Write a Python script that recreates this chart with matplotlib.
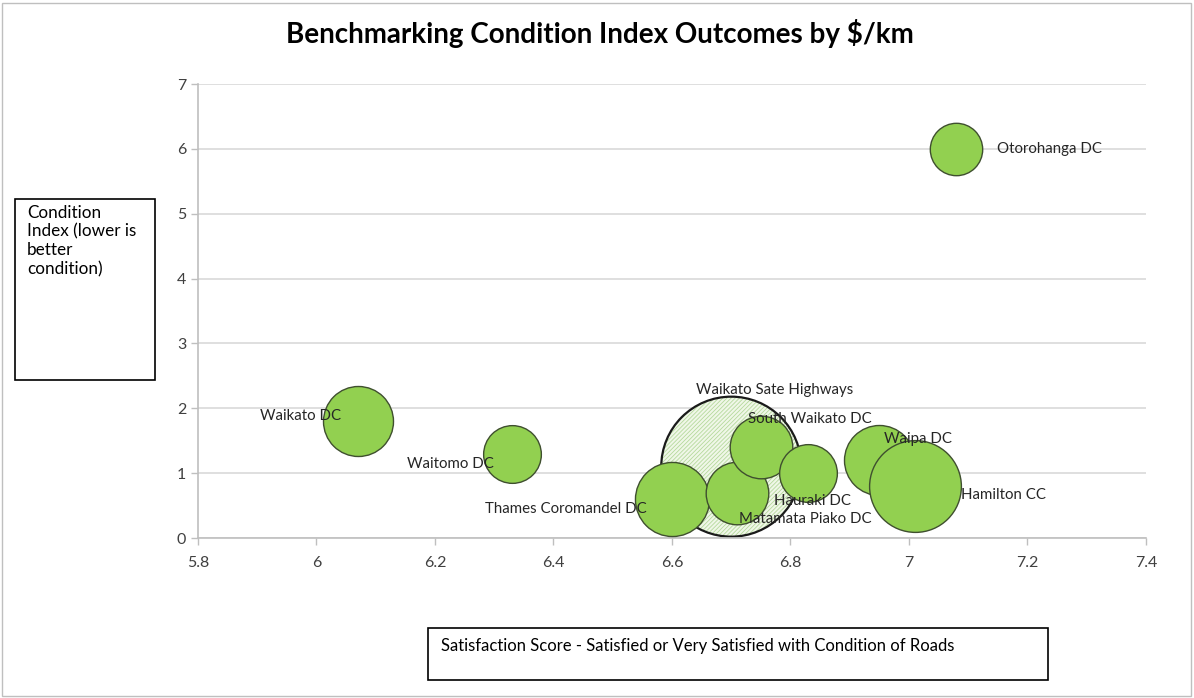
"""
Benchmarking condition index vs satisfaction score, bubble chart.
"""
import matplotlib
matplotlib.use("Agg")
import matplotlib.pyplot as plt
from matplotlib.patches import Rectangle
import numpy as np

plt.rcParams["font.family"] = ["Lato", "DejaVu Sans"]
plt.rcParams["hatch.linewidth"] = 0.6

# ── data ─────────────────────────────────────────────────────────────────────
councils = ["Waikato Sate Highways", "Otorohanga DC", "Waikato DC", "Waitomo DC",
            "Thames Coromandel DC", "Matamata Piako DC", "South Waikato DC",
            "Hauraki DC", "Waipa DC", "Hamilton CC"]
satisfaction = [6.70, 7.08, 6.07, 6.33, 6.60, 6.71, 6.75, 6.83, 6.95, 7.01]
condition = [1.1, 6.0, 1.8, 1.3, 0.6, 0.7, 1.4, 1.0, 1.2, 0.8]
# relative bubble size (spend per km, largest = 100)
bubble_size = [100, 14, 25, 17, 28, 20, 20, 17, 25, 43]

# label offsets in pixels (dx, dy, ha)
label_pos = {
    "Waikato Sate Highways": (43, 77, "center"),
    "Otorohanga DC": (41, 0, "left"),
    "Waikato DC": (-17, 5, "right"),
    "Waitomo DC": (-18, -10, "right"),
    "Thames Coromandel DC": (-25, -10, "right"),
    "Matamata Piako DC": (2, -26, "left"),
    "South Waikato DC": (49, 28, "center"),
    "Hauraki DC": (-34, -28, "left"),
    "Waipa DC": (5, 21, "left"),
    "Hamilton CC": (46, -9, "left"),
}

GREEN = "#92D050"
MAX_RADIUS_PX = 70

fig = plt.figure(figsize=(11.94, 6.98), dpi=100)
ax = fig.add_axes([198 / 1194, 1 - 538 / 698, (1146 - 198) / 1194, (538 - 84) / 698])

sizes = [(2 * MAX_RADIUS_PX * np.sqrt(v / 100) * 0.72) ** 2 for v in bubble_size]

# state highways bubble: hatched pale fill behind everything
ax.scatter(satisfaction[:1], condition[:1], s=sizes[:1], facecolor="#F0F7E8",
           edgecolor="#B5D99C", hatch="////////", linewidth=0, zorder=2)
ax.scatter(satisfaction[:1], condition[:1], s=sizes[:1], facecolor="none",
           edgecolor="#1a1a1a", linewidth=1.6, zorder=2)

for x, y, s in zip(satisfaction[1:], condition[1:], sizes[1:]):
    ax.scatter(x, y, s=s, facecolor=GREEN, edgecolor="#3F4F2F", linewidth=1.0, zorder=3)

for name, x, y in zip(councils, satisfaction, condition):
    dx, dy, ha = label_pos[name]
    ax.annotate(name, (x, y), xytext=(dx, dy), textcoords="offset pixels",
                ha=ha, va="center", fontsize=10.8, color="#262626", zorder=5)

ax.set_xlim(5.8, 7.4)
ax.set_ylim(0, 7)
ax.set_xticks(np.arange(5.8, 7.41, 0.2))
ax.set_xticklabels(["5.8", "6", "6.2", "6.4", "6.6", "6.8", "7", "7.2", "7.4"])
ax.set_yticks(range(8))
ax.grid(axis="y", color="#D9D9D9", linewidth=1.2, zorder=0)
ax.set_axisbelow(True)
for side in ("top", "right"):
    ax.spines[side].set_visible(False)
for side in ("left", "bottom"):
    ax.spines[side].set_color("#BFBFBF")
    ax.spines[side].set_linewidth(1.2)
ax.tick_params(colors="#BFBFBF", labelcolor="#404040", labelsize=11.5, length=5, width=1)
ax.tick_params(axis="x", pad=8)

fig.text(600 / 1194, 1 - 33 / 698, "Benchmarking Condition Index Outcomes by $/km",
         ha="center", va="center", fontsize=20, fontweight="bold", color="#000000")

# axis title boxes
fig.patches.append(Rectangle((15 / 1194, 1 - 380 / 698), 140 / 1194, 181 / 698,
                             transform=fig.transFigure, fill=False, edgecolor="#000000",
                             linewidth=1.2))
fig.text(27 / 1194, 1 - 205 / 698, "Condition\nIndex (lower is\nbetter\ncondition)",
         ha="left", va="top", fontsize=12.3, color="#000000", linespacing=1.2)

fig.patches.append(Rectangle((428 / 1194, 1 - 680 / 698), 620 / 1194, 52 / 698,
                             transform=fig.transFigure, fill=False, edgecolor="#000000",
                             linewidth=1.2))
fig.text(441 / 1194, 1 - 646 / 698,
         "Satisfaction Score - Satisfied or Very Satisfied with Condition of Roads",
         ha="left", va="center", fontsize=12, color="#000000")

# chart border
fig.patches.append(Rectangle((2 / 1194, 2 / 698), 1189 / 1194, 693 / 698,
                             transform=fig.transFigure, fill=False, edgecolor="#BFBFBF",
                             linewidth=1))

fig.savefig("out.png", dpi=100)
